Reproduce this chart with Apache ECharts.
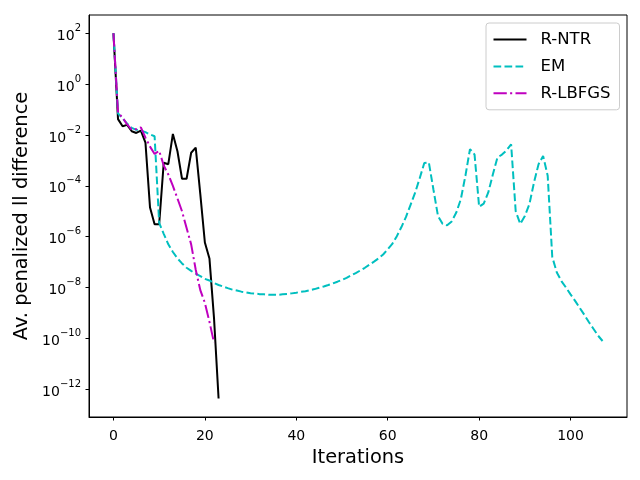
<!DOCTYPE html>
<html>
<head>
<meta charset="utf-8">
<script src="https://cdn.jsdelivr.net/npm/echarts@6/dist/echarts.min.js"></script>
<style>
  html, body { margin: 0; padding: 0; background: #fff; }
  #chart { width: 640px; height: 480px; }
</style>
</head>
<body>
<div id="chart"></div>
<script>
// values, one per iteration (index = iteration)
var ntrVals = [1e2, 4.2e-2, 2.2e-2, 2.5e-2, 1.4e-2, 1.2e-2, 1.5e-2, 5.0e-3, 1.4e-5, 3.1e-6,
    3.1e-6, 8.1e-4, 7.1e-4, 1.1e-2, 2.3e-3, 1.9e-4, 1.9e-4, 2.0e-3, 3.2e-3, 4.7e-5,
    5.9e-7, 1.4e-7, 6.3e-10, 4.3e-13];

var emVals = [1e2, 7.1e-2, 4.5e-2, 2.8e-2, 1.9e-2, 1.6e-2, 1.5e-2, 1.3e-2, 1.05e-2, 8.9e-3,
    3.5e-6, 1.3e-6, 5.0e-7, 2.5e-7, 1.4e-7, 8.9e-8, 6.0e-8, 4.5e-8, 3.5e-8, 2.8e-8,
    2.2e-8, 1.9e-8, 1.5e-8, 1.26e-8, 1.1e-8, 9.5e-9, 8.3e-9, 7.6e-9, 6.9e-9, 6.5e-9,
    6.0e-9, 5.8e-9, 5.5e-9, 5.4e-9, 5.2e-9, 5.2e-9, 5.2e-9, 5.4e-9, 5.6e-9, 5.9e-9,
    6.3e-9, 6.8e-9, 7.2e-9, 7.9e-9, 8.7e-9, 9.8e-9, 1.1e-8, 1.26e-8, 1.45e-8, 1.7e-8,
    2.0e-8, 2.4e-8, 3.0e-8, 3.7e-8, 4.7e-8, 6.0e-8, 7.9e-8, 1.05e-7, 1.4e-7, 2.0e-7,
    3.2e-7, 5.2e-7, 1.05e-6, 2.4e-6, 6.0e-6, 1.8e-5, 5.4e-5, 2.0e-4, 7.9e-4, 8.3e-4,
    7.2e-5, 6.5e-6, 3.2e-6, 2.8e-6, 4.0e-6, 8.9e-6, 3.0e-5, 2.5e-4, 2.8e-3, 1.7e-3,
    1.5e-5, 2.0e-5, 5.5e-5, 2.8e-4, 1.3e-3, 1.7e-3, 2.5e-3, 4.3e-3, 1.0e-5, 3.2e-6,
    6.5e-6, 1.9e-5, 1.35e-4, 7.1e-4, 1.5e-3, 2.5e-4, 1.6e-7, 3.9e-8, 1.8e-8, 1.0e-8,
    5.4e-9, 3.0e-9, 1.6e-9, 8.5e-10, 4.4e-10, 2.4e-10, 1.3e-10, 7.9e-11];

var lbfgsVals = [1e2, 7.6e-2, 4.8e-2, 2.6e-2, 1.6e-2, 1.7e-2, 2.0e-2, 7.9e-3, 3.5e-3, 1.8e-3,
    2.4e-3, 6.3e-4, 2.8e-4, 1.0e-4, 3.2e-5, 1.0e-5, 2.2e-6, 5.0e-7, 5.0e-8, 7.9e-9,
    2.5e-9, 4.5e-10, 6.8e-11];

var xTicks = [0, 20, 40, 60, 80, 100];
var yTicks = [1e-12, 1e-10, 1e-8, 1e-6, 1e-4, 1e-2, 1e0, 1e2];

function pairs(vals) {
    return vals.map(function (v, i) { return [i, v]; });
}

var chart = echarts.init(document.getElementById('chart'), null, { renderer: 'canvas' });

var font = 'DejaVu Sans';

var option = {
    animation: false,
    backgroundColor: '#fff',
    textStyle: { fontFamily: font, color: '#000' },
    grid: {
        left: 89, right: 13, top: 15, bottom: 63,
        show: true, borderColor: '#000', borderWidth: 1, backgroundColor: 'transparent'
    },
    legend: {
        orient: 'vertical',
        left: 486, top: 23,
        padding: [8, 9, 8, 6.5],
        itemWidth: 33, itemHeight: 14, itemGap: 9.9,
        backgroundColor: '#fff',
        borderColor: '#cccccc', borderWidth: 1, borderRadius: 3,
        itemStyle: { opacity: 0 },
        textStyle: { fontFamily: font, fontSize: 16.5, color: '#000', padding: [0, 0, 0, 9] },
        data: ['R-NTR', 'EM', 'R-LBFGS']
    },
    xAxis: {
        type: 'value',
        min: -5.35, max: 112.35,
        name: 'Iterations',
        nameLocation: 'middle',
        nameGap: 31,
        nameTextStyle: { fontFamily: font, fontSize: 19.4, color: '#000' },
        splitLine: { show: false },
        axisLine: { show: true, onZero: false, lineStyle: { color: '#000', width: 1 } },
        axisTick: { show: true, length: 3.5, lineStyle: { color: '#000' }, customValues: xTicks },
        axisLabel: { fontFamily: font, fontSize: 14, color: '#000', margin: 12, customValues: xTicks }
    },
    yAxis: {
        type: 'log',
        logBase: 10,
        min: 8.1e-14, max: 525,
        name: 'Av. penalized ll difference',
        nameLocation: 'middle',
        nameRotate: 90,
        nameGap: 54,
        nameTextStyle: { fontFamily: font, fontSize: 19.4, color: '#000' },
        splitLine: { show: false },
        axisLine: { show: true, onZero: false, lineStyle: { color: '#000', width: 1 } },
        axisTick: { show: true, length: 3.5, lineStyle: { color: '#000' }, customValues: yTicks },
        axisLabel: {
            margin: 8,
            customValues: yTicks,
            formatter: function (v) {
                var e = Math.round(Math.log10(v));
                var s = e < 0 ? '\u2212' + (-e) : String(e);
                return '{b|10}{sup|' + s + '}';
            },
            rich: {
                b: { fontFamily: font, fontSize: 14, color: '#000', lineHeight: 20, verticalAlign: 'bottom' },
                sup: { fontFamily: font, fontSize: 10, color: '#000', lineHeight: 12, verticalAlign: 'top' }
            }
        }
    },
    series: [
        {
            name: 'R-NTR', type: 'line', data: pairs(ntrVals),
            symbol: 'none', color: '#000000',
            lineStyle: { width: 2, color: '#000000' }
        },
        {
            name: 'EM', type: 'line', data: pairs(emVals),
            symbol: 'none', color: '#00bfbf',
            lineStyle: { width: 2, color: '#00bfbf', type: [7.7, 3.3] }
        },
        {
            name: 'R-LBFGS', type: 'line', data: pairs(lbfgsVals),
            symbol: 'none', color: '#bf00bf',
            lineStyle: { width: 2, color: '#bf00bf', type: [13.3, 3.3, 2.1, 3.3] }
        }
    ]
};

chart.setOption(option);
</script>
</body>
</html>
